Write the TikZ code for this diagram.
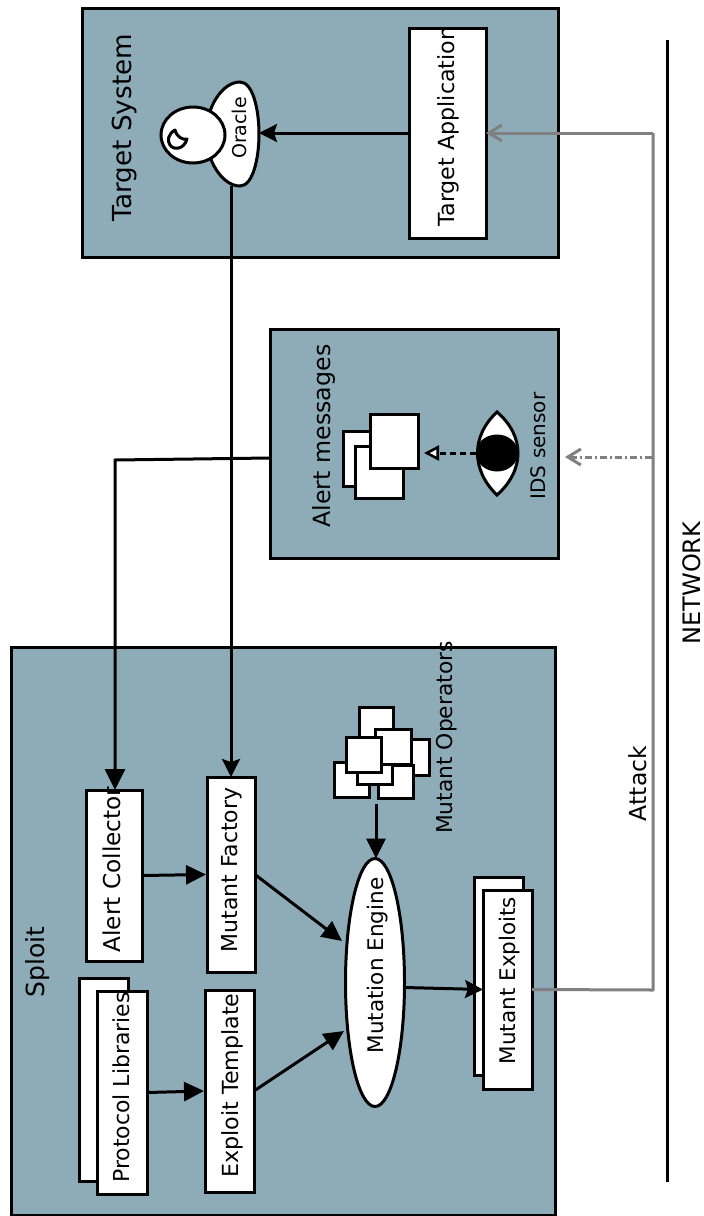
\documentclass[tikz,border=0pt]{standalone}
\usepackage{fontspec}
\setmainfont{DejaVu Sans}
\usetikzlibrary{arrows.meta,shapes.geometric,calc}
\definecolor{panelc}{HTML}{8EACB7}
\definecolor{netgrey}{HTML}{808080}
\tikzset{
  panel/.style={draw=black,fill=panelc,line width=3pt,inner sep=0pt,outer sep=0pt},
  boxn/.style={draw=black,fill=white,line width=3pt,inner sep=0pt,outer sep=0pt,align=center},
  ell/.style={ellipse,draw=black,fill=white,line width=3pt,inner sep=0pt,outer sep=0pt},
  lab/.style={inner sep=0pt,outer sep=0pt},
  conn/.style={draw=black,line width=3pt},
  tipA/.style={-{Stealth[length=18pt,width=18pt,inset=3pt]}},
  tipB/.style={-{Triangle[length=20pt,width=19pt]}},
  tipC/.style={-{Triangle[length=21pt,width=20pt]}},
  greyc/.style={draw=netgrey,line width=3pt},
}
\newcommand{\rt}[2]{\rotatebox{90}{\fontsize{#1}{#1}\selectfont #2}}
\newcommand{\pbox}[5]{\node[boxn,minimum width={#4-#3},minimum height={#5-#2}] at ({(#3+#4)/2},{(#2+#5)/2}) (#1) {};}
\begin{document}
\begin{tikzpicture}[x=1pt,y=-1pt]
\useasboundingbox (0,0) rectangle (704,1216);
% panels
\node[panel,minimum width=476pt,minimum height=249pt] (targetp) at (320,132.5) {};
\node[panel,minimum width=288pt,minimum height=229pt] (alertp) at (414,443.5) {};
\node[panel,minimum width=544pt,minimum height=568pt] (sploitp) at (283,931) {};
\node[lab] (tslab) at (125,127.5) {\rt{26.2}{Target System}};
\node[lab] (amlab) at (324,436) {\rt{23.7}{Alert messages}};
\node[lab] (splab) at (38,962) {\rt{25}{Sploit}};
\node[lab] (idslab) at (538,446) {\rt{20}{IDS sensor}};
\node[lab] (molab) at (446.5,737.5) {\rt{21.8}{Mutant Operators}};
\node[lab] (attlab) at (637.5,783.5) {\rt{23.5}{Attack}};
\node[lab] (netlab) at (691.5,583) {\rt{24}{NETWORK}};
% target system
\node[boxn,minimum width=77pt,minimum height=210pt] (app) at (447.5,133) {};
\node[lab] (applab) at (448.5,126.5) {\rt{22.2}{Target Application}};
\node[ellipse,inner sep=0pt,outer sep=0pt,minimum width=53pt,minimum height=104pt] (oracle) at (232.5,134) {};
\draw[fill=white,line width=3pt] (240,82) .. controls (253,82) and (259,110) .. (259,134) .. controls (259,158) and (253,186) .. (240,186) .. controls (222,186) and (206,160) .. (206,134) .. controls (206,108) and (222,82) .. (240,82) -- cycle;
\node[lab] (orlab) at (239,128) {\rt{19}{Oracle}};
\node[ell,minimum width=64pt,minimum height=56pt] (face) at (193,135) {};
\draw[line width=3pt,line join=round] (175,130) .. controls (168,134) and (167,141) .. (170,145) .. controls (173,150) and (184,150) .. (187,139) .. controls (182,140) and (177,137) .. (175,130) -- cycle;
% IDS
\pbox{ma}{431}{343}{391}{486}
\pbox{mb}{446}{355}{403}{498}
\pbox{mc}{414}{370}{418}{468}
\fill[white] (497,411) .. controls (470,435) and (470,470) .. (497,495) .. controls (525,470) and (525,435) .. (497,411) -- cycle;
\draw[line width=3pt] (497,412) .. controls (471,436) and (471,470) .. (497,495) .. controls (525,470) and (525,436) .. (497,412) -- cycle;
\node[ellipse,fill=black,minimum width=42pt,minimum height=37pt,inner sep=0pt,outer sep=0pt] (eye) at (497,453) {};
\draw[line width=3pt,dash pattern=on 6pt off 4pt,-{Triangle[open,fill=white,length=15pt,width=15pt,line width=2.6pt]}] (eye.west) -- ($(mc.east |- eye.west)+(6,0)$);
% sploit boxes
\node[boxn,minimum width=56pt,minimum height=171pt] (coll) at (114,875.5) {};
\node[lab] (colllab) at (112,869.5) {\rt{23.2}{Alert Collector}};
\node[boxn,minimum width=48pt,minimum height=195pt] (fact) at (231,874.5) {};
\node[lab] (factlab) at (232,870) {\rt{22}{Mutant Factory}};
\pbox{pback}{978}{79}{128}{1181}
\node[boxn,minimum width=50pt,minimum height=203pt] (plib) at (122,1092.5) {};
\node[lab] (pliblab) at (121.5,1087.5) {\rt{22}{Protocol Libraries}};
\node[boxn,minimum width=49pt,minimum height=202pt] (tmpl) at (229.5,1091) {};
\node[lab] (tmpllab) at (232,1085.5) {\rt{22.2}{Exploit Template}};
\node[ell,minimum width=59pt,minimum height=248pt] (engine) at (375,982.5) {};
\node[lab] (englab) at (377.5,965.5) {\rt{21.5}{Mutation Engine}};
\pbox{eback}{877}{474}{523}{1075}
\node[boxn,minimum width=49pt,minimum height=199pt] (mexp) at (507.5,989.5) {};
\node[lab] (mexplab) at (509.5,980.5) {\rt{21.5}{Mutant Exploits}};
% operators
\pbox{oa}{707}{359}{393}{745}
\pbox{ob}{739}{395}{429}{775}
\pbox{oc}{762}{334}{369}{797}
\pbox{od}{765}{378}{413}{798}
\pbox{oe}{750}{357}{392}{784}
\pbox{of}{729}{375}{411}{764}
\pbox{og}{737}{346}{381}{772}
% connectors
\coordinate (opsout) at (376,804);
\coordinate (engA) at (342,941);
\coordinate (engB) at (344,1031);
\coordinate (alertout) at (270,458);
\coordinate (alertbend) at (115,460);
\coordinate (netA) at (653,990);
\coordinate (netB) at (653,133);
\coordinate (idsfree) at (652,457);
\coordinate (idsin) at (565,457);
\coordinate (netT) at (667,40);
\coordinate (netL) at (667,1182);
\draw[conn,tipA] (app.west) -- (oracle.east |- app.west);
\draw[conn,tipA] (oracle.south -| fact.north) -- (fact.north);
\draw[conn,tipC] (alertout) -- (alertbend) -- (alertbend |- coll.north);
\draw[conn,tipB] (coll.east) -- ($(fact.west)+(-1,0)$);
\draw[conn,tipB] (plib.east) -- ($(tmpl.west)+(-1,0)$);
\draw[conn,tipB] (fact.east) -- (engA);
\draw[conn,tipB] (tmpl.east) -- (engB);
\draw[conn,tipB] (opsout) -- (opsout |- engine.north);
\draw[conn,tipA] ($(engine.east)+(0,5)$) -- (mexp.west);
\draw[greyc,line join=round] (mexp.east) -- (netA) -- (netB);
\draw[greyc,-{Straight Barb[length=13pt,width=16pt]}] (netB) -- (app.east |- netB);
\draw[greyc,dash pattern=on 7pt off 3pt on 2pt off 3pt,-{Straight Barb[length=13pt,width=16pt]}] (idsfree) -- (idsin);
\draw[conn] (netT) -- (netL);
\end{tikzpicture}
\end{document}
